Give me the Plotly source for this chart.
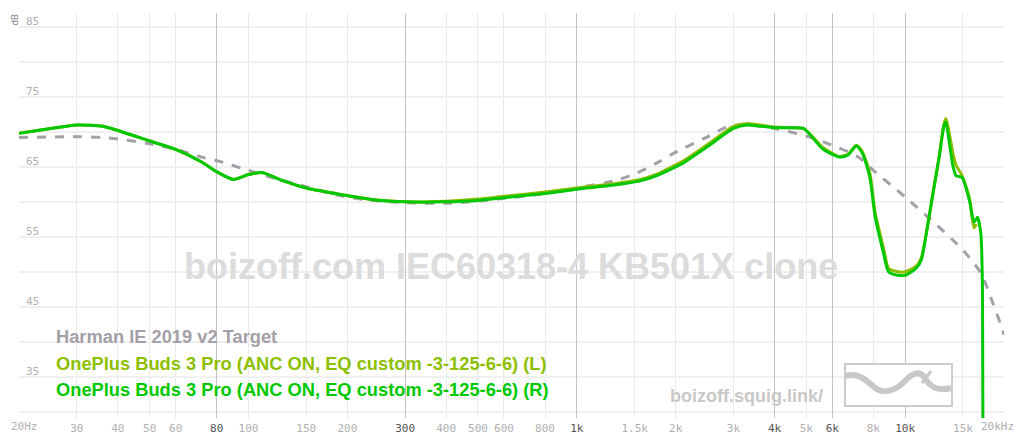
import math
import plotly.graph_objects as go

# ---------------- data ----------------
freq_target = [20, 30, 36, 40, 50, 60, 72, 80, 100, 126, 152, 194, 240, 300, 400, 500, 600, 800,
               1000, 1300, 1500, 1760, 2000, 2500, 2900, 3300, 4000, 5000, 6000, 7200, 8000,
               10000, 12000, 15000, 17000, 18500, 19800, 20000]
db_target = [69.2, 69.3, 69.2, 69.0, 68.3, 67.5, 66.4, 65.9, 64.5, 63.1, 62.1, 60.8, 60.2, 59.9, 59.8,
             60.1, 60.5, 61.2, 62.0, 63.0, 64.0, 65.6, 67.1, 69.3, 70.8, 71.0, 70.5, 69.4, 68.1,
             66.4, 64.5, 60.7, 57.4, 53.1, 49.8, 45.5, 41.7, 41.0]

freq_L = [20, 25, 30, 36, 40, 50, 60, 72, 80, 90, 100, 110, 126, 152, 194, 240, 300, 400, 500, 600,
          800, 1000, 1300, 1560, 1760, 2000, 2100, 2500, 3000, 3300, 4000, 4500, 4900, 5200, 5600,
          6300, 6700, 7100, 7400, 7800, 8100, 8600, 8900, 9500, 10000, 10800, 11200, 11600, 12200,
          12700, 13100, 13300, 13500, 14000, 14300, 14900, 15700, 16200, 16500]
db_L = [69.8, 70.5, 71.0, 70.8, 70.2, 68.7, 67.5, 65.7, 64.3, 63.2, 63.9, 64.2, 63.1, 61.9, 61.0,
        60.3, 60.0, 60.1, 60.4, 60.8, 61.4, 62.0, 62.6, 63.2, 64.0, 65.3, 65.8, 68.2, 70.8, 71.2,
        70.7, 70.6, 70.5, 69.4, 67.8, 66.5, 66.8, 68.1, 67.2, 64.2, 58.5, 53.3, 50.5, 50.0, 50.0,
        50.8, 52.0, 55.5, 61.7, 66.6, 70.9, 71.9, 70.8, 66.8, 65.2, 63.8, 60.5, 56.3, 56.8]

freq_R = [20, 25, 30, 36, 40, 50, 60, 72, 80, 90, 100, 110, 126, 152, 194, 240, 300, 400, 500, 600,
          800, 1000, 1300, 1560, 1760, 2000, 2100, 2500, 3000, 3300, 4000, 4500, 4900, 5200, 5600,
          6300, 6700, 7100, 7400, 7800, 8100, 8600, 8900, 9500, 10000, 10800, 11200, 11600, 12200,
          12700, 13100, 13300, 13500, 14000, 14300, 14900, 15700, 16200, 16600, 17000, 17200, 17250]
db_R = [69.8, 70.5, 71.0, 70.8, 70.2, 68.7, 67.5, 65.7, 64.3, 63.2, 63.9, 64.2, 63.1, 61.9, 61.0,
        60.3, 60.0, 60.0, 60.2, 60.6, 61.2, 61.8, 62.4, 63.0, 63.8, 65.0, 65.5, 67.9, 70.5, 71.0,
        70.6, 70.6, 70.5, 69.3, 67.6, 66.4, 66.7, 68.0, 67.0, 63.6, 57.9, 52.6, 50.0, 49.5, 49.5,
        50.5, 51.7, 55.5, 61.7, 66.4, 70.7, 71.4, 69.8, 65.0, 63.7, 63.5, 60.2, 57.1, 57.8, 55.5,
        47.4, 29.0]

minor_ticks = [20, 30, 40, 50, 60, 100, 150, 200, 400, 500, 600, 800, 1500, 2000, 3000, 5000,
               8000, 15000, 20000]
minor_text = ["", "30", "40", "50", "60", "100", "150", "200", "400", "500", "600",
              "800", "1.5k", "2k", "3k", "5k", "8k", "15k", ""]
edge_ticks = [20, 20000]
edge_text = ["20Hz", "20kHz"]
major_ticks = [80, 300, 1000, 4000, 6000, 10000]
major_text = ["80", "300", "1k", "4k", "6k", "10k"]
y_ticks = [30, 35, 40, 45, 50, 55, 60, 65, 70, 75, 80, 85]
y_text = ["", "35", "", "45", "", "55", "", "65", "", "75", "", "85"]

legend_names = ["Harman IE 2019 v2 Target",
                "OnePlus Buds 3 Pro (ANC ON, EQ custom -3-125-6-6) (L)",
                "OnePlus Buds 3 Pro (ANC ON, EQ custom -3-125-6-6) (R)"]
colors = ["#a49fa8", "#8dbf00", "#00c800"]

# ---------------- geometry (page body has an 8px margin) ----------------
OFF = 8
W, H = 1024 - 2 * OFF, 443 - 2 * OFF
ML = 19 - OFF
MT = 13 - OFF
MR = W - (1004 - OFF)
MB = H - (418 - OFF)
PW, PH = W - ML - MR, H - MT - MB


def px(x, y):
    """reference viewport pixel -> paper fraction"""
    return (x - OFF - ML) / PW, (H - MB - (y - OFF)) / PH


fig = go.Figure()
fig.add_trace(go.Scatter(x=freq_target, y=db_target, mode="lines",
                         line=dict(color=colors[0], width=3, dash="dash", shape="spline", smoothing=0.8),
                         hoverinfo="skip"))
fig.add_trace(go.Scatter(x=freq_L, y=db_L, mode="lines",
                         line=dict(color=colors[1], width=3, shape="spline", smoothing=0.6),
                         hoverinfo="skip"))
fig.add_trace(go.Scatter(x=freq_R, y=db_R, mode="lines",
                         line=dict(color=colors[2], width=3, shape="spline", smoothing=0.6),
                         hoverinfo="skip"))
fig.add_trace(go.Scatter(x=[], y=[], xaxis="x2", showlegend=False))

xr = [math.log10(20), math.log10(20000)]
mono = "DejaVu Sans Mono"
fig.update_layout(
    width=W, height=H,
    margin=dict(l=ML, r=MR, t=MT, b=MB, autoexpand=False),
    paper_bgcolor="white", plot_bgcolor="white",
    showlegend=False,
    xaxis=dict(type="log", range=xr, tickmode="array", tickvals=minor_ticks, ticktext=minor_text,
               showgrid=True, gridcolor="#e9e9e9", gridwidth=1, zeroline=False, showline=False,
               ticks="", automargin=False, ticklabelstandoff=2,
               tickfont=dict(family=mono, size=11, color="#b0b0b0")),
    xaxis2=dict(type="log", range=xr, overlaying="x", anchor="y", side="bottom", tickmode="array",
                tickvals=major_ticks, ticktext=major_text, showgrid=True, gridcolor="#c4c4c4",
                gridwidth=1, zeroline=False, showline=False, ticks="", automargin=False,
                ticklabelstandoff=2,
                tickfont=dict(family=mono, size=11, color="#555555")),
    yaxis=dict(range=[29.1, 87.0], tickmode="array", tickvals=y_ticks, ticktext=y_text,
               showgrid=True, gridcolor="#f0f0f0", gridwidth=1.5, zeroline=False, showline=False,
               ticks="", ticklabelposition="inside", ticklabelshift=-6, ticklabelstandoff=4,
               automargin=False,
               tickfont=dict(family=mono, size=11, color="#b0b0b0")),
)

ann = []
# edge tick labels (20Hz / 20kHz), anchored to the axis values
ann.append(dict(text=edge_text[0], x=math.log10(edge_ticks[0]), xref="x", y=0, yref="paper",
                xanchor="center", yanchor="top", yshift=0, xshift=5, showarrow=False,
                font=dict(family=mono, size=11, color="#b0b0b0")))
ann.append(dict(text=edge_text[1], x=math.log10(edge_ticks[1]), xref="x", y=0, yref="paper",
                xanchor="center", yanchor="top", yshift=0, xshift=-7, showarrow=False,
                font=dict(family=mono, size=11, color="#b0b0b0")))
# dB axis label
ax, ay = px(14.5, 20)
ann.append(dict(text="dB", x=ax, y=ay, xref="paper", yref="paper",
                xanchor="center", yanchor="middle", textangle=-90, showarrow=False,
                font=dict(family="Open Sans", size=9, color="#777777")))
# watermark
ann.append(dict(text="<b>boizoff.com IEC60318-4 KB501X clone</b>", x=px(511, 0)[0], y=px(0, 266)[1],
                xref="paper", yref="paper", xanchor="center", yanchor="middle", showarrow=False,
                font=dict(family="Liberation Sans", size=36, color="#dcdcdc")))
# site link
ann.append(dict(text="<b>boizoff.squig.link/</b>", x=px(668, 0)[0], y=px(0, 396)[1],
                xref="paper", yref="paper", xanchor="left", yanchor="middle", showarrow=False,
                font=dict(family="Liberation Sans", size=18, color="#c8c8c8")))
# legend texts
leg_y = [336, 363, 389]
for name, c, yy in zip(legend_names, colors, leg_y):
    ann.append(dict(text="<b>" + name + "</b>", x=px(54, 0)[0], y=px(0, yy)[1], xref="paper",
                    yref="paper", xanchor="left", yanchor="middle", showarrow=False,
                    font=dict(family="Liberation Sans", size=18.3, color=c)))
fig.update_layout(annotations=ann)

# logo
x0, y0 = px(845, 406)
x1, y1 = px(952, 364)
fig.add_shape(type="rect", xref="paper", yref="paper", x0=x0, y0=y0, x1=x1, y1=y1,
              line=dict(color="#cccccc", width=2), fillcolor="white", layer="above")


def pth(points):
    s = ""
    for cmd, pts in points:
        s += cmd + " " + " ".join("%.5f,%.5f" % px(a, b) for a, b in pts) + " "
    return s.strip()


squiggle = pth([("M", [(845, 376)]),
                ("C", [(858, 372), (866, 380), (874, 387)]),
                ("C", [(882, 394), (894, 392), (904, 382)]),
                ("C", [(912, 373), (920, 370), (925, 378)]),
                ("C", [(930, 388), (940, 391), (951, 388)])])
fig.add_shape(type="path", path=squiggle, xref="paper", yref="paper",
              line=dict(color="#c8c8c8", width=6), layer="above")
tick = pth([("M", [(922, 383)]), ("L", [(931, 371)])])
fig.add_shape(type="path", path=tick, xref="paper", yref="paper",
              line=dict(color="#c8c8c8", width=3), layer="above")

fig.write_html("out.html")
